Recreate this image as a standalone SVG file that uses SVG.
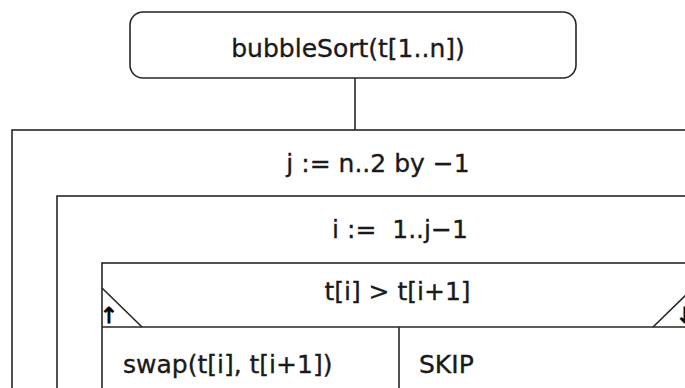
<svg xmlns="http://www.w3.org/2000/svg" width="685" height="388" viewBox="0 0 685 388">
<style>
.ln{fill:none;stroke:#262626;stroke-width:1.6}
.bx{fill:#fff;stroke:#262626;stroke-width:1.6}
.t{font-family:"DejaVu Sans",sans-serif;font-size:25px;fill:#1a1a1a;stroke:#1a1a1a;stroke-width:0.35;white-space:pre}
.c{text-anchor:middle}
.ar{font-family:"DejaVu Sans",sans-serif;font-size:22px;fill:#000;stroke:#000;stroke-width:0.9;text-anchor:middle;font-variant-emoji:text}
</style>
<rect width="685" height="388" fill="#fff"/>
<g id="connectors">
<line class="ln" x1="355" y1="78" x2="355" y2="130"/>
</g>
<g id="start">
<rect class="bx" x="130" y="12" width="446" height="66" rx="13" ry="13"/>
<text class="t c" x="348" y="57">bubbleSort(t[1..n])</text>
</g>
<g id="loop-j">
<rect class="bx" x="12" y="130" width="731" height="300"/>
<text class="t c" x="378" y="172">j := n..2 by −1</text>
</g>
<g id="loop-i">
<rect class="bx" x="57" y="196" width="686" height="230"/>
<text class="t c" x="400" y="238" xml:space="preserve">i :=  1..j−1</text>
</g>
<g id="if">
<rect class="bx" x="102" y="263" width="591" height="160"/>
<text class="t c" x="397.5" y="300">t[i] &gt; t[i+1]</text>
<line class="ln" x1="102" y1="327" x2="693" y2="327"/>
<line class="ln" x1="102" y1="288" x2="142" y2="327"/>
<line class="ln" x1="653" y1="327" x2="693" y2="288"/>
<text class="ar" x="109" y="323">↑&#xFE0E;</text>
<text class="ar" x="685" y="323">↓&#xFE0E;</text>
<line class="ln" x1="399" y1="327" x2="399" y2="400"/>
</g>
<g id="then">
<text class="t" x="123" y="373">swap(t[i], t[i+1])</text>
</g>
<g id="else">
<text class="t" x="419" y="373">SKIP</text>
</g>
</svg>
